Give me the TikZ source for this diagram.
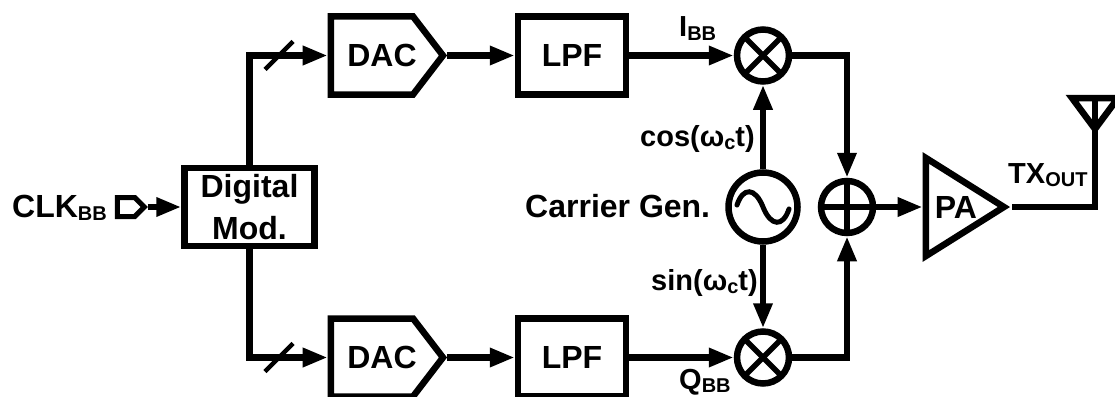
\documentclass[tikz,border=0pt]{standalone}
\usepackage{fontspec}
\setmainfont{Liberation Sans}
\usetikzlibrary{arrows.meta,shapes.geometric,shapes.symbols}
\newcommand{\blockfont}{\fontsize{32}{41.5}\selectfont\bfseries}
\newcommand{\labelfont}{\fontsize{29}{32}\selectfont\bfseries}
\newcommand{\lowsub}[1]{\raisebox{-3.5pt}{\fontsize{20}{20}\selectfont #1}}
\tikzset{
    wire/.style={line width=6.5pt},
    sig/.style={wire,-{Triangle[length=25pt,width=18pt]}},
    slash/.style={line width=4.5pt},
    block/.style={draw,line width=6.5pt,inner sep=0pt,font=\blockfont},
    dacblock/.style={block,signal,signal to=east,signal from=nowhere,signal pointer angle=105,minimum width=112pt,minimum height=78pt},
    lpfblock/.style={block,minimum width=108pt,minimum height=78pt},
    mixer/.style={draw,circle,line width=6.5pt,inner sep=0pt,minimum size=52pt,path picture={
        \draw[line width=5.5pt] (path picture bounding box.north west) -- (path picture bounding box.south east);
        \draw[line width=5.5pt] (path picture bounding box.north east) -- (path picture bounding box.south west);}},
    adder/.style={draw,circle,line width=6.5pt,inner sep=0pt,minimum size=52pt,path picture={
        \draw[line width=5.5pt] (path picture bounding box.north) -- (path picture bounding box.south);
        \draw[line width=5.5pt] (path picture bounding box.west) -- (path picture bounding box.east);}},
    txtlabel/.style={anchor=base west,inner sep=0pt,font=\labelfont},
    biglabel/.style={anchor=base west,inner sep=0pt,font=\blockfont}
}
\begin{document}
\begin{tikzpicture}[x=1pt,y=-1pt]
    \useasboundingbox (0,0) rectangle (1115,396);
    %input and modulator
    \node[biglabel] (clklabel) at (12,217) {CLK\lowsub{BB}};
    \node[draw,line width=5pt,signal,signal to=east,signal from=nowhere,signal pointer angle=90,inner sep=0pt,minimum width=27pt,minimum height=19pt] (clkport) at (126,207) {};
    \node[block,align=center,minimum width=130pt,minimum height=78pt] (mod) at (249.5,207) {Digital\\Mod.};
    \draw[sig] (clkport.east) -- (mod.west);
    %I and Q rows
    \foreach \row/\y in {i/55.5,q/357.5}{
        \node[dacblock] (dac\row) at (372,\y) {};
        \node[inner sep=0pt,font=\blockfont] (daclabel\row) at (382,\y) {DAC};
        \node[lpfblock] (lpf\row) at (572,\y) {LPF};
        \node[mixer] (mix\row) at (763,\y) {};
        \coordinate (bus\row) at (279,\y);
        \draw[sig] (dac\row.east) -- (lpf\row.west);
        \draw[sig] (lpf\row.east) -- (mix\row.west);
        \draw[slash] ([shift={(-14,14)}]bus\row) -- ([shift={(14,-14)}]bus\row);
    }
    \draw[sig] (mod.north) |- (daci.west);
    \draw[sig] (mod.south) |- (dacq.west);
    \node[txtlabel] (ibb) at (679,37) {I\lowsub{BB}};
    \node[txtlabel] (qbb) at (679,389) {Q\lowsub{BB}};
    %carrier
    \node[draw,circle,line width=6.5pt,inner sep=0pt,minimum size=69pt,path picture={
        \draw[line width=5pt,line cap=round,shift={(path picture bounding box.center)}]
            (-26,-2) .. controls (-20,-20) and (-8,-20) .. (0,0) .. controls (8,20) and (20,20) .. (26,2);}] (carrier) at (763,207) {};
    \node[biglabel] (carrierlabel) at (525,217) {Carrier Gen.};
    \node[txtlabel] (coslabel) at (640,146) {cos(ω\lowsub{c}t)};
    \node[txtlabel] (sinlabel) at (651,290) {sin(ω\lowsub{c}t)};
    \draw[sig] (carrier.north) -- (mixi.south);
    \draw[sig] (carrier.south) -- (mixq.north);
    %sum and output
    \node[adder] (sum) at (847,207) {};
    \draw[sig] (mixi.east) -| (sum.north);
    \draw[sig] (mixq.east) -| (sum.south);
    \node[draw,line width=6.5pt,isosceles triangle,isosceles triangle stretches,inner sep=0pt,minimum width=98pt,minimum height=78pt] (pa) at (953,207) {};
    \node[inner sep=0pt,font=\blockfont] (palabel) at (956,207) {PA};
    \draw[sig] (sum.east) -- (pa.west);
    \node[txtlabel] (txlabel) at (1008,183) {TX\lowsub{OUT}};
    \coordinate (anttip) at (1095,129);
    \coordinate (anttop) at (1095,98);
    \draw[wire] (pa.east) -| (anttip);
    \draw[wire,miter limit=10] (anttip) -- (1072,98) -- (1118,98) -- cycle;
    \draw[wire] (anttip) -- (anttop);
\end{tikzpicture}
\end{document}
